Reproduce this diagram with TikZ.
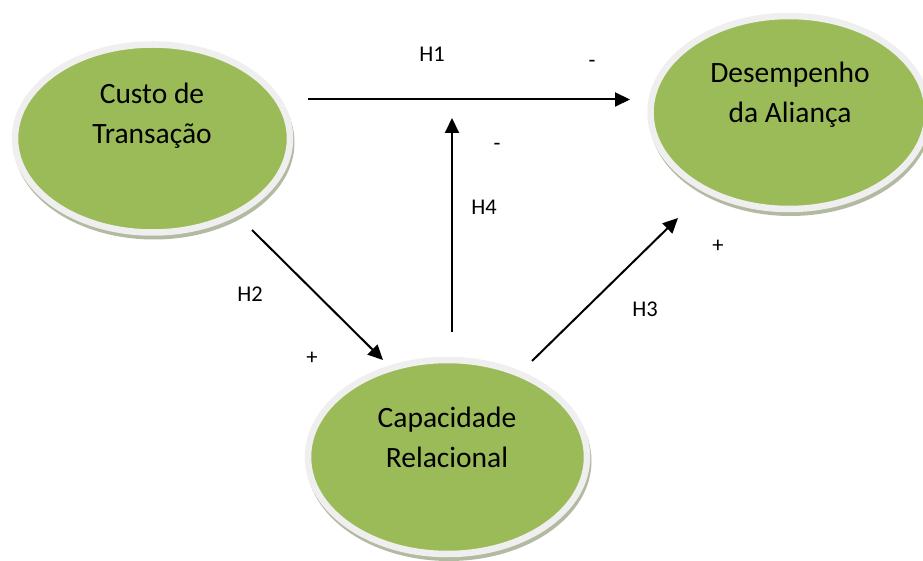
\documentclass[tikz,border=0pt]{standalone}
\usepackage{fontspec}
\setmainfont{Carlito}
\usetikzlibrary{shapes.geometric,arrows.meta}
\definecolor{leaf}{HTML}{9BBB59}
\definecolor{rim}{HTML}{EFEFEF}
\definecolor{shade}{HTML}{B2BAA2}
\begin{document}
\begin{tikzpicture}[x=1pt,y=-1pt,
  bubble/.style={ellipse, draw=rim, fill=leaf, line width=6.5pt, inner sep=0pt},
  backshade/.style={ellipse, fill=shade, inner sep=0pt},
  title/.style={anchor=base, font=\fontsize{29.5}{40}\selectfont},
  tag/.style={anchor=base, font=\fontsize{22.5}{26}\selectfont},
  link/.style={line width=2pt, -{Triangle[length=15pt,width=14pt]}}]
\useasboundingbox (0,0) rectangle (923,561);

% soft drop shadows behind the three constructs
\node[backshade, minimum width=281pt, minimum height=194pt] (s1) at (154,142.5) {};
\node[backshade, minimum width=285pt, minimum height=200pt] (s2) at (449,461) {};
\node[backshade, minimum width=283pt, minimum height=199pt] (s3) at (790.5,116.5) {};

% constructs
\node[bubble, minimum width=275pt, minimum height=188pt] (custo) at (152.5,138.5) {};
\node[bubble, minimum width=279pt, minimum height=194pt] (capac) at (447.5,457) {};
\node[bubble, minimum width=277pt, minimum height=193pt] (desemp) at (789,112.5) {};

\node[title] (custoA) at (152,104) {Custo de};
\node[title] (custoB) at (152,144) {Transação};
\node[title] (capacA) at (447,427) {Capacidade};
\node[title] (capacB) at (447,467) {Relacional};
\node[title] (desempA) at (790,83) {Desempenho};
\node[title] (desempB) at (790,123) {da Aliança};

% arrow end points
\coordinate (h1s) at (308,99.5);
\coordinate (h1e) at (630,99.5);
\coordinate (h2s) at (252,230);
\coordinate (h2e) at (383,360);
\coordinate (h3s) at (532,361);
\coordinate (h3e) at (678,218);
\coordinate (h4s) at (452,332);
\coordinate (h4e) at (452,118);

\draw[link] (h1s) -- (h1e);
\draw[link] (h2s) -- (h2e);
\draw[link] (h3s) -- (h3e);
\draw[link] (h4s) -- (h4e);

% hypothesis labels and signs
\node[tag] (t1) at (432,62) {H1};
\node[tag] (t1s) at (592,68) {-};
\node[tag] (t4) at (484,215) {H4};
\node[tag] (t4s) at (497,151) {-};
\node[tag] (t2) at (250,301) {H2};
\node[tag] (t2s) at (312,364) {+};
\node[tag] (t3) at (645,316) {H3};
\node[tag] (t3s) at (718,253) {+};
\end{tikzpicture}
\end{document}
